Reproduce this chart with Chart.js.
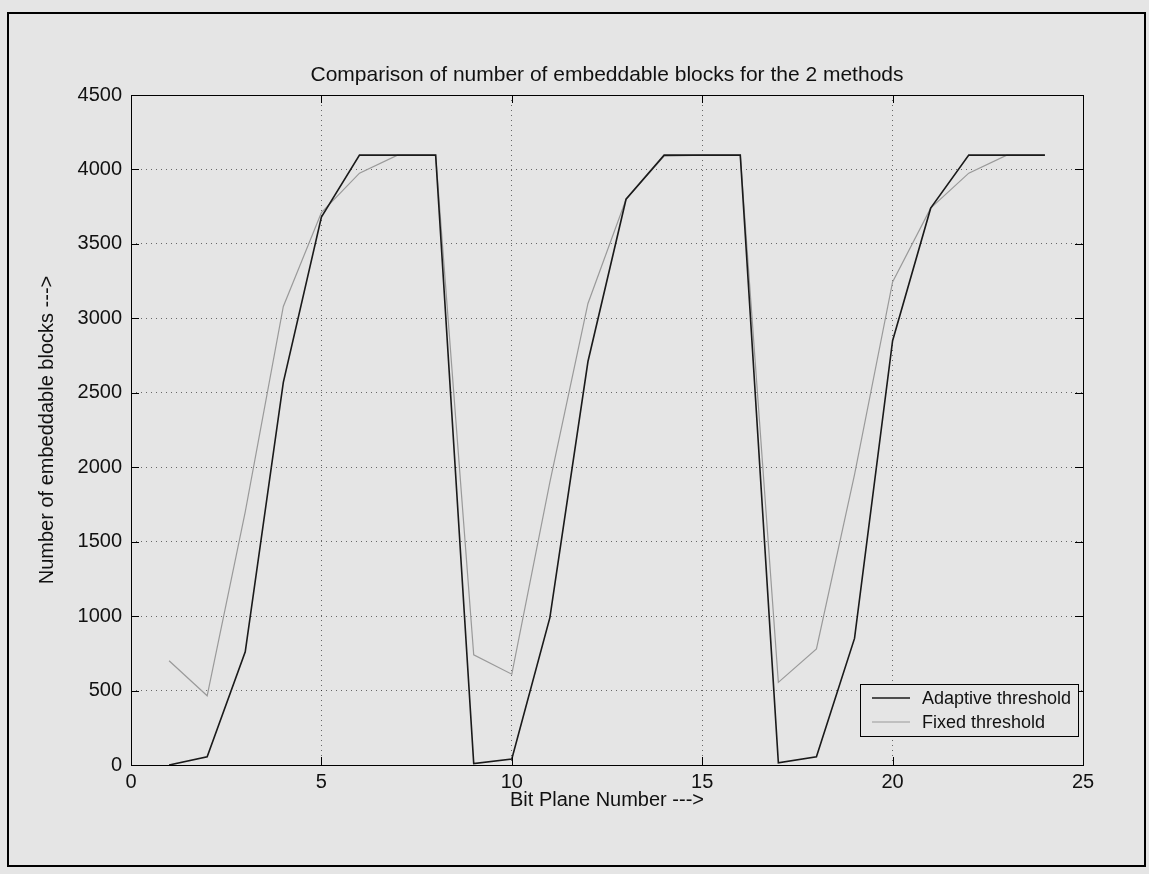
<!DOCTYPE html>
<html>
<head>
<meta charset="utf-8">
<script src="https://cdn.jsdelivr.net/npm/chart.js@4.4.1/dist/chart.umd.min.js"></script>
<style>
  html, body { margin: 0; padding: 0; background: #e5e5e5; }
  #wrap { width: 1149px; height: 874px; }
</style>
</head>
<body>
<div id="wrap"><canvas id="chart" width="1149" height="874"></canvas></div>
<script>
// bit planes 1..24, three passes of 8 planes
const bitPlanes = [1, 2, 3, 4, 5, 6, 7, 8, 9, 10, 11, 12, 13, 14, 15, 16, 17, 18, 19, 20, 21, 22, 23, 24];
const adaptiveBlocks = [0, 55, 760, 2570, 3680, 4096, 4096, 4096, 10, 40, 990, 2710, 3800, 4096, 4096, 4096, 15, 55, 850, 2850, 3740, 4096, 4096, 4096];
const fixedBlocks = [700, 465, 1700, 3080, 3710, 3975, 4096, 4096, 740, 610, 1900, 3100, 3800, 4090, 4096, 4096, 555, 780, 1950, 3245, 3740, 3975, 4096, 4096];

const xTicks = [0, 5, 10, 15, 20, 25];
const yTicks = [0, 500, 1000, 1500, 2000, 2500, 3000, 3500, 4000, 4500];

const seriesNames = ["Adaptive threshold", "Fixed threshold"];
const chartTitle = "Comparison of number of embeddable blocks for the 2 methods";
const xLabel = "Bit Plane Number --->";
const yLabel = "Number of embeddable blocks --->";

const FONT = "'Liberation Sans', Arial, sans-serif";
const BG = "#e5e5e5";

function toPoints(ys) {
  return bitPlanes.map((x, i) => ({ x: x, y: ys[i] }));
}

// box round the axes, inward ticks, title, legend and the outer frame
const matlabLook = {
  id: "matlabLook",
  afterDraw(chart) {
    const ctx = chart.ctx;
    const a = chart.chartArea;
    const xs = chart.scales.x;
    const ys = chart.scales.y;

    ctx.save();
    ctx.strokeStyle = "#000";
    ctx.lineWidth = 1;
    ctx.strokeRect(a.left + 0.5, a.top + 0.5, a.right - a.left, a.bottom - a.top);

    const tl = 8;
    ctx.beginPath();
    xTicks.forEach((v) => {
      const px = Math.round(xs.getPixelForValue(v)) + 0.5;
      ctx.moveTo(px, a.bottom); ctx.lineTo(px, a.bottom - tl);
      ctx.moveTo(px, a.top); ctx.lineTo(px, a.top + tl);
    });
    yTicks.forEach((v) => {
      const py = Math.round(ys.getPixelForValue(v)) + 0.5;
      ctx.moveTo(a.left, py); ctx.lineTo(a.left + tl, py);
      ctx.moveTo(a.right, py); ctx.lineTo(a.right - tl, py);
    });
    ctx.stroke();

    // title
    ctx.fillStyle = "#111";
    ctx.font = "21px " + FONT;
    ctx.textAlign = "center";
    ctx.textBaseline = "alphabetic";
    ctx.fillText(chartTitle, (a.left + a.right) / 2, 81);

    // legend
    const lw = 218, lh = 52;
    const lx = a.right - 5 - lw;
    const ly = a.bottom - 29 - lh;
    ctx.fillStyle = BG;
    ctx.fillRect(lx, ly, lw, lh);
    ctx.strokeStyle = "#000";
    ctx.lineWidth = 1;
    ctx.strokeRect(lx + 0.5, ly + 0.5, lw, lh);
    ctx.font = "18px " + FONT;
    ctx.textAlign = "left";
    ctx.textBaseline = "middle";
    chart.data.datasets.forEach((ds, i) => {
      const yy = ly + 14 + i * 24;
      ctx.strokeStyle = ds.borderColor;
      ctx.lineWidth = ds.borderWidth;
      ctx.beginPath();
      ctx.moveTo(lx + 12, yy);
      ctx.lineTo(lx + 50, yy);
      ctx.stroke();
      ctx.fillStyle = "#111";
      ctx.fillText(ds.label, lx + 62, yy + 1);
    });

    // outer frame of the figure
    ctx.strokeStyle = "#000";
    ctx.lineWidth = 2;
    ctx.strokeRect(8, 13, 1137, 853);
    ctx.restore();
  }
};

const ctx = document.getElementById("chart").getContext("2d");

new Chart(ctx, {
  type: "line",
  data: {
    datasets: [
      {
        label: seriesNames[0],
        data: toPoints(adaptiveBlocks),
        borderColor: "#1a1a1a",
        borderWidth: 1.6,
        pointRadius: 0,
        fill: false,
        tension: 0
      },
      {
        label: seriesNames[1],
        data: toPoints(fixedBlocks),
        borderColor: "#9a9a9a",
        borderWidth: 1.2,
        pointRadius: 0,
        fill: false,
        tension: 0
      }
    ]
  },
  options: {
    responsive: false,
    animation: false,
    layout: {
      padding: { top: 95, right: 66, left: 0, bottom: 0 }
    },
    plugins: {
      legend: { display: false },
      tooltip: { enabled: false },
      title: { display: false }
    },
    scales: {
      x: {
        type: "linear",
        min: 0,
        max: 25,
        afterBuildTicks(scale) {
          scale.ticks = xTicks.map((v) => ({ value: v }));
        },
        afterFit(scale) {
          scale.height = 874 - 765;
        },
        grid: {
          color: "rgba(0,0,0,0.55)",
          drawTicks: false
        },
        border: { display: false, dash: [1, 4] },
        ticks: {
          color: "#111",
          font: { family: FONT, size: 20 },
          padding: 5,
          maxRotation: 0,
          callback: (v) => String(v)
        },
        title: {
          display: true,
          text: xLabel,
          color: "#111",
          font: { family: FONT, size: 20 },
          padding: { top: 0, bottom: 62 }
        }
      },
      y: {
        type: "linear",
        min: 0,
        max: 4500,
        afterBuildTicks(scale) {
          scale.ticks = yTicks.map((v) => ({ value: v }));
        },
        afterFit(scale) {
          scale.width = 131;
        },
        grid: {
          color: "rgba(0,0,0,0.55)",
          drawTicks: false
        },
        border: { display: false, dash: [1, 4] },
        ticks: {
          color: "#111",
          font: { family: FONT, size: 20 },
          padding: 9,
          callback: (v) => String(v)
        },
        title: {
          display: true,
          text: yLabel,
          color: "#111",
          font: { family: FONT, size: 20 },
          padding: { top: 35, bottom: 0 }
        }
      }
    }
  },
  plugins: [
    {
      id: "paperBackground",
      beforeDraw(chart) {
        const c = chart.ctx;
        c.save();
        c.fillStyle = BG;
        c.fillRect(0, 0, chart.width, chart.height);
        c.restore();
      }
    },
    matlabLook
  ]
});
</script>
</body>
</html>
